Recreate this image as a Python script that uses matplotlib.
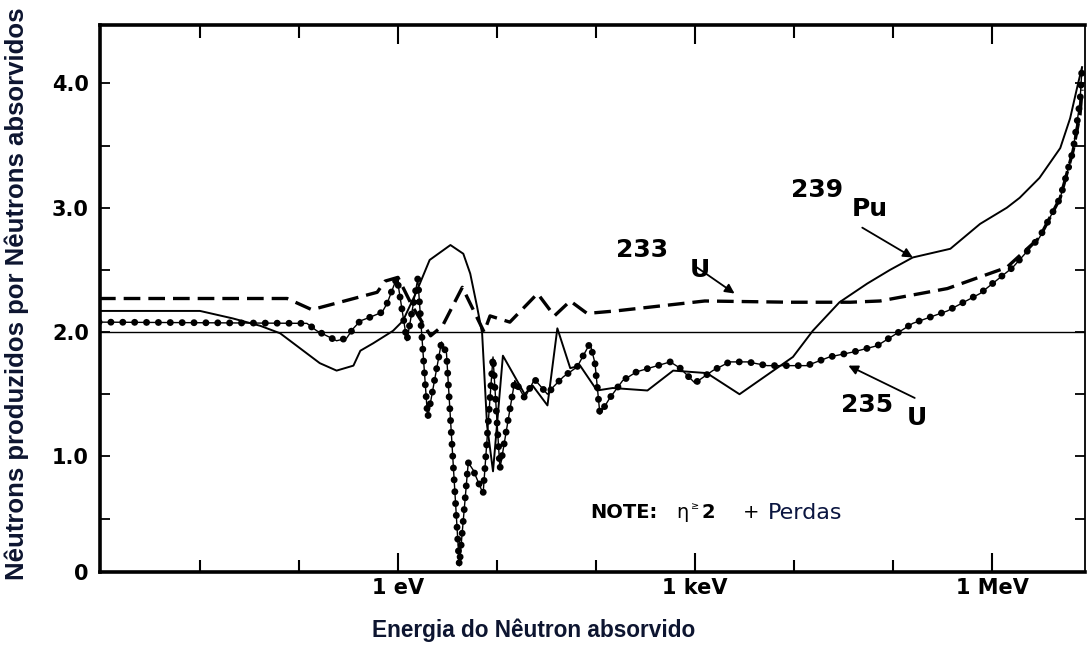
import numpy as np
import matplotlib
matplotlib.use('Agg')
import matplotlib.pyplot as plt
from matplotlib.ticker import NullFormatter

# energies given as log10(E / eV); eta = neutrons produced per neutron absorbed
u233_logE = [-3.02, -1.12, -0.87, -0.21, -0.13, 0.0, 0.15, 0.33, 0.45, 0.65, 0.87,
             0.93, 1.13, 1.41, 1.58, 1.74, 1.91, 2.2, 3.1, 3.96, 4.57, 4.87, 5.55,
             6.15, 6.48, 6.69, 6.82, 6.89, 6.91]
u233_eta = [2.27, 2.27, 2.18, 2.32, 2.41, 2.44, 2.2, 1.97, 2.05, 2.36, 2.0,
            2.13, 2.08, 2.31, 2.13, 2.25, 2.15, 2.17, 2.25, 2.24, 2.24, 2.25, 2.35,
            2.52, 2.76, 3.08, 3.46, 3.75, 3.95]

pu239_logE = [-3.02, -2.0, -1.67, -1.39, -1.19, -0.99, -0.79, -0.62, -0.45, -0.38,
              -0.25, -0.05, 0.05, 0.19, 0.32, 0.53, 0.66, 0.73, 0.80, 0.85, 0.90,
              0.96, 1.06, 1.28, 1.36, 1.51, 1.61, 1.74, 1.84, 2.01, 2.17, 2.52,
              2.78, 3.12, 3.45, 3.99, 4.19, 4.46, 4.74, 4.97, 5.20, 5.58, 5.88,
              6.15, 6.28, 6.48, 6.69, 6.79, 6.87, 6.91]
pu239_eta = [2.17, 2.17, 2.11, 2.05, 1.99, 1.87, 1.75, 1.69, 1.73, 1.85,
             1.91, 2.01, 2.09, 2.33, 2.58, 2.70, 2.63, 2.47, 2.20, 1.99, 1.25,
             0.88, 1.81, 1.50, 1.57, 1.41, 2.03, 1.71, 1.73, 1.53, 1.55, 1.53,
             1.69, 1.67, 1.50, 1.80, 2.01, 2.24, 2.39, 2.50, 2.60, 2.67, 2.87,
             3.00, 3.08, 3.24, 3.48, 3.72, 4.00, 4.13]

u235_logE = [-3.02, -0.92, -0.82, -0.72, -0.62, -0.52, -0.45, -0.38, -0.28, -0.16,
             -0.11, -0.01, 0.09, 0.20, 0.30, 0.44, 0.49, 0.62, 0.71, 0.76, 0.86,
             0.96, 1.03, 1.18, 1.28, 1.38, 1.51, 1.57, 1.67, 1.81, 1.94, 1.99,
             2.04, 2.14, 2.27, 2.41, 2.58, 2.75, 2.85, 3.0, 3.18, 3.35, 3.53,
             3.73, 4.13, 4.36, 4.60, 4.84, 5.20, 5.55, 5.88, 6.21, 6.48, 6.69,
             6.82, 6.89, 6.91]
u235_eta = [2.08, 2.07, 2.01, 1.97, 1.93, 1.95, 2.03, 2.09, 2.12, 2.16,
            2.23, 2.44, 1.93, 2.43, 1.31, 1.92, 1.83, 0.12, 0.95, 0.89, 0.70,
            1.80, 0.90, 1.61, 1.47, 1.62, 1.50, 1.56, 1.64, 1.72, 1.91, 1.75,
            1.34, 1.47, 1.61, 1.68, 1.72, 1.76, 1.71, 1.59, 1.69, 1.76, 1.76,
            1.73, 1.73, 1.80, 1.84, 1.89, 2.07, 2.17, 2.31, 2.52, 2.76, 3.08,
            3.46, 3.86, 4.13]

x_ticks = [1, 1e3, 1e6]
x_labels = ['1 eV', '1 keV', '1 MeV']
x_minor = [1e-2, 1e-1, 1e1, 1e2, 1e4, 1e5]
y_ticks = [0.07, 1.0, 2.0, 3.0, 4.0]
y_labels = ['0', '1.0', '2.0', '3.0', '4.0']

fig = plt.figure(figsize=(10.87, 6.52), dpi=100)
ax = fig.add_axes([100 / 1087, 1 - 572 / 652, 985 / 1087, 547 / 652])

ax.axhline(2.0, color='k', lw=1.0)
ax.plot(10 ** np.array(u233_logE), u233_eta, color='k', lw=2.4, dashes=(5, 2.4))
ax.plot(10 ** np.array(pu239_logE), pu239_eta, color='k', lw=1.4)
E235 = 10 ** np.array(u235_logE)
ax.plot(E235, u235_eta, color='k', lw=1.0)
ax.plot(E235, u235_eta, color='k', lw=5, linestyle=(0, (0.01, 1.7)),
        dash_capstyle='round')

ax.set_xscale('log')
ax.set_xlim(10 ** -3.01, 10 ** 6.94)
ax.set_ylim(0.07, 4.47)
ax.set_xticks(x_ticks, labels=x_labels)
ax.set_xticks(x_minor, minor=True)
ax.xaxis.set_minor_formatter(NullFormatter())
ax.set_yticks(y_ticks, labels=y_labels)
ax.set_yticks([0.5, 1.5, 2.5, 3.5], minor=True)

ax.tick_params(axis='x', which='major', direction='in', length=14, width=1.5,
               top=True, labelsize=15, pad=4)
ax.tick_params(axis='x', which='minor', direction='in', length=9, width=1.5, top=True)
ax.tick_params(axis='y', which='both', direction='in', length=7, width=1.3,
               right=True, labelsize=15, pad=8)
for lab in ax.get_xticklabels() + ax.get_yticklabels():
    lab.set_fontweight('bold')

for side in ['left', 'bottom', 'top']:
    ax.spines[side].set_linewidth(2.6)
ax.spines['right'].set_linewidth(1.3)

# curve labels
lab_kw = dict(fontsize=18, fontweight='bold', ha='center', va='center')
ax.text(10 ** 2.47, 2.66, '233', **lab_kw)
ax.text(10 ** 3.05, 2.50, 'U', **lab_kw)
ax.text(10 ** 4.23, 3.14, '239', **lab_kw)
ax.text(10 ** 4.77, 2.99, 'Pu', **lab_kw)
ax.text(10 ** 4.74, 1.41, '235', **lab_kw)
ax.text(10 ** 5.24, 1.31, 'U', **lab_kw)

arr = dict(arrowstyle='-|>', lw=1.3, color='k', mutation_scale=14, shrinkA=0, shrinkB=0)
ax.annotate('', xy=(10 ** 3.40, 2.31), xytext=(10 ** 3.02, 2.52), arrowprops=arr)
ax.annotate('', xy=(10 ** 5.20, 2.60), xytext=(10 ** 4.69, 2.84), arrowprops=arr)
ax.annotate('', xy=(10 ** 4.55, 1.73), xytext=(10 ** 5.22, 1.47), arrowprops=arr)

# note
ny = 0.108
ax.text(0.4975, ny, 'NOTE:', transform=ax.transAxes, fontsize=14,
        fontweight='bold', va='center')
ax.text(0.585, ny, 'η', transform=ax.transAxes, fontsize=14, va='center')
ax.text(0.6, 0.12, '≥', transform=ax.transAxes, fontsize=7, va='center')
ax.text(0.611, ny, '2', transform=ax.transAxes, fontsize=14,
        fontweight='bold', va='center')
ax.text(0.653, ny, '+', transform=ax.transAxes, fontsize=14, va='center')
ax.text(0.678, ny, 'Perdas', transform=ax.transAxes, fontsize=16,
        color='#0a1540', va='center')

fig.text(17 / 1087, 1 - 294 / 652, 'Nêutrons produzidos por Nêutrons absorvidos',
         rotation=90, ha='center', va='center', fontsize=18.5, fontweight='bold',
         family='Liberation Sans', color='#0d1530')
fig.text(534 / 1087, 1 - 630 / 652, 'Energia do Nêutron absorvido',
         ha='center', va='center', fontsize=16.3, fontweight='bold',
         family='Liberation Sans', color='#0d1530')

fig.savefig('out.png', dpi=100, facecolor='white')
